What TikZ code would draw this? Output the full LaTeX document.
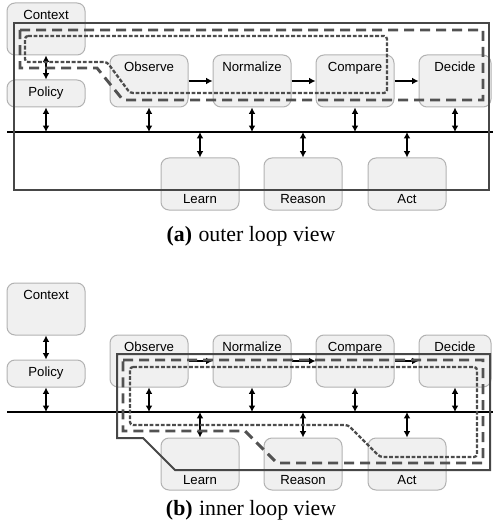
\documentclass[tikz,border=0pt]{standalone}
\usepackage{fontspec}
\setmainfont{Liberation Serif}
\setsansfont{Liberation Sans}
\usetikzlibrary{arrows.meta}

% the blocks and the bus, drawn once per panel (names get the scope's prefix)
\newcommand{\loopblocks}{%
  \node[blk, toplbl] (ctx) at (46,29) {Context};
  \node[blk, minimum height=13.5pt] (pol) at (46,93.5) {Policy};
  \node[blk, toplbl] (obs) at (149,81) {Observe};
  \node[blk, toplbl] (nrm) at (252,81) {Normalize};
  \node[blk, toplbl] (cmp) at (355,81) {Compare};
  \node[blk, toplbl, minimum width=36pt] (dec) at (455,81) {Decide};
  \node[blk, botlbl] (lrn) at (200,184) {Learn};
  \node[blk, botlbl] (rsn) at (303,184) {Reason};
  \node[blk, botlbl] (act) at (407,184) {Act};
  % Bus
  \coordinate (busL) at (7,132);
  \coordinate (busR) at (494,132);
  \draw[bus] (busL) -- (busR);
  % Verbindungen
  \draw[link, <->] (ctx) -- (pol);
  \foreach \n in {pol,obs,nrm,cmp,dec}
    \draw[link, <->] (\n.south) -- (\n.south |- busL);
  \foreach \n in {lrn,rsn,act}
    \draw[link, <->] (\n.north |- busL) -- (\n.north);
  \draw[link, ->] (obs) -- (nrm);
  \draw[link, ->] (nrm) -- (cmp);
  \draw[link, ->] (cmp) -- (dec);
}

\begin{document}
\begin{tikzpicture}[
    x=0.5pt, y=-0.5pt,
    >={Latex[length=3.2pt, width=3.4pt]},
    blk/.style={draw=gray!60, fill=gray!12, line width=0.5pt,
        rounded corners=4pt, minimum width=39pt, minimum height=26pt,
        inner sep=0pt, font=\sffamily\fontsize{6.6}{7.8}\selectfont},
    toplbl/.style={text height=8.2pt, text depth=17.8pt},
    botlbl/.style={text height=23pt, text depth=3pt},
    link/.style={line width=0.95pt},
    bus/.style={line width=1pt},
    frame/.style={draw=black!72, line width=1pt},
    outerloop/.style={draw=black!68, line width=1.45pt,
        dash pattern=on 5pt off 3pt},
    innerloop/.style={draw=black!70, line width=1.15pt,
        dash pattern=on 1.9pt off 0.9pt, rounded corners=1.5pt},
    caption/.style={font=\fontsize{10.9}{13}\selectfont, anchor=base}
]
\useasboundingbox (0,0) rectangle (492,529);

% ============================================================
% (a) outer loop view
% ============================================================
\begin{scope}[name prefix=a-]
  \loopblocks
  \draw[frame] (14,23) rectangle (489,190);
  \draw[outerloop] (20,30) -- (483,30) -- (483,100) -- (123,100)
      -- (97,68) -- (20,68) -- cycle;
  \draw[innerloop] (25,36) -- (387,36) -- (387,93) -- (130,93)
      -- (107,62) -- (25,62) -- cycle;
  \node[caption] (cap) at (251,242) {\textbf{(a)}\hspace{0.3em}outer loop view};
\end{scope}

% ============================================================
% (b) inner loop view
% ============================================================
\begin{scope}[shift={(0,280)}, name prefix=b-]
  \loopblocks
  \draw[frame] (117,74) -- (490,74) -- (490,190) -- (175,190)
      -- (143,158) -- (117,158) -- cycle;
  \draw[outerloop] (123,80) -- (483,80) -- (483,183) -- (277,183)
      -- (245,151) -- (123,151) -- cycle;
  \draw[innerloop] (130,87) -- (477,87) -- (477,177) -- (380,177)
      -- (348,145) -- (130,145) -- cycle;
  \node[caption] (cap) at (251,235) {\textbf{(b)}\hspace{0.3em}inner loop view};
\end{scope}

\end{tikzpicture}
\end{document}
